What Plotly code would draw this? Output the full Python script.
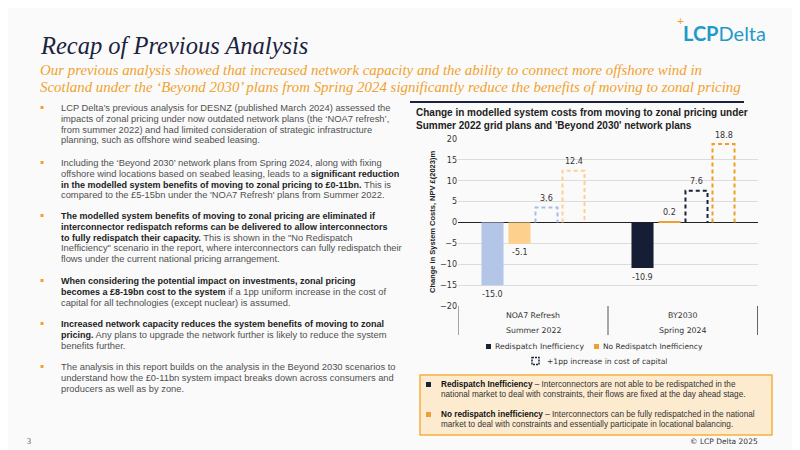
import plotly.graph_objects as go

# chart data
categories = ["NOA7 Refresh", "BY2030"]
periods = ["Summer 2022", "Spring 2024"]
redispatch = [-15.0, -10.9]
no_redispatch = [-5.1, 0.2]
redispatch_coc = [3.6, 7.6]
no_redispatch_coc = [12.4, 18.8]

col_redispatch = ["#b4c6e7", "#161e36"]
col_no_redispatch = ["#fdd08e", "#f0a030"]

# page geometry (pixels in the 800x450 window) -> paper coords
# the page body has an 8px margin, so the figure is 792x442
PAGE_W, PAGE_H, OFF = 800, 450, 8
L, R, T, B = 458, 758, 139, 306


def px(x, y):
    return (x - L) / (R - L), (B - y) / (B - T)


fig = go.Figure()

bar_w = 0.147
offsets = [-0.27, -0.09, 0.09, 0.27]
xs = list(range(len(categories)))

# solid bars
fig.add_trace(go.Bar(x=[i + offsets[0] for i in xs], y=redispatch, width=bar_w,
                     marker=dict(color=col_redispatch, line=dict(width=0))))
fig.add_trace(go.Bar(x=[i + offsets[1] for i in xs], y=no_redispatch, width=bar_w,
                     marker=dict(color=col_no_redispatch, line=dict(width=0))))

# dashed bars (+1pp cost of capital)
for vals, off, cols in [(redispatch_coc, offsets[2], ["#a9bde3", "#1a2238"]),
                        (no_redispatch_coc, offsets[3], ["#fcd290", "#f29f21"])]:
    for i, v in enumerate(vals):
        x0, x1 = i + off - bar_w / 2, i + off + bar_w / 2
        fig.add_trace(go.Scatter(x=[x0, x0, x1, x1], y=[0, v, v, 0], mode="lines",
                                 line=dict(color=cols[i], width=2, dash="4px,3px"),
                                 hoverinfo="skip"))

ann = []
shapes = []

# data labels
for vals, off in [(redispatch, offsets[0]), (no_redispatch, offsets[1]),
                  (redispatch_coc, offsets[2]), (no_redispatch_coc, offsets[3])]:
    for i, v in enumerate(vals):
        ann.append(dict(x=i + off, y=v, xref="x", yref="y", text=f"{v:.1f}", showarrow=False,
                        xanchor="center", yanchor="middle", yshift=9 if v >= 0 else -9,
                        font=dict(family="DejaVu Sans", size=8, color="#333333")))


def text(x, y, s, size=9, color="#555555", family="Liberation Sans", anchor="left", **kw):
    ax, ay = px(x, y)
    ann.append(dict(x=ax, y=ay, xref="paper", yref="paper", text=s, showarrow=False,
                    xanchor=anchor, yanchor="middle",
                    font=dict(family=family, size=size, color=color), **kw))


def rect(x0, y0, x1, y1, **kw):
    a0, b0 = px(x0, y0)
    a1, b1 = px(x1, y1)
    shapes.append(dict(type="rect", xref="paper", yref="paper", x0=a0, y0=b0, x1=a1, y1=b1, **kw))


# slide header
text(38, 45, "<i>Recap of Previous Analysis</i>", size=24.5, color="#1c2340",
     family="Liberation Serif")
text(38, 70, "<i>Our previous analysis showed that increased network capacity and the ability to connect more offshore wind in</i>",
     size=14.9, color="#f0a22e", family="Liberation Serif")
text(38, 87, "<i>Scotland under the ‘Beyond 2030’ plans from Spring 2024 significantly reduce the benefits of moving to zonal pricing</i>",
     size=14.9, color="#f0a22e", family="Liberation Serif")

# logo
text(724, 33, "<b>LCP</b>Delta", size=20, color="#1f9ac9", family="Lato", anchor="center")
text(680, 20, "+", size=12, color="#f0a22e", family="Lato", anchor="center")

# bullets
bold = "<b style='color:#222;font-size:9px'>{}</b>"
bullets = [
    (108, ["LCP Delta’s previous analysis for DESNZ (published March 2024) assessed the",
           "impacts of zonal pricing under now outdated network plans (the ‘NOA7 refresh’,",
           "from summer 2022) and had limited consideration of strategic infrastructure",
           "planning, such as offshore wind seabed leasing."]),
    (163, ["Including the ‘Beyond 2030’ network plans from Spring 2024, along with fixing",
           "offshore wind locations based on seabed leasing, leads to a " + bold.format("significant reduction"),
           bold.format("in the modelled system benefits of moving to zonal pricing to £0-11bn.") + " This is",
           "compared to the £5-15bn under the 'NOA7 Refresh' plans from Summer 2022."]),
    (216, [bold.format("The modelled system benefits of moving to zonal pricing are eliminated if"),
           bold.format("interconnector redispatch reforms can be delivered to allow interconnectors"),
           bold.format("to fully redispatch their capacity.") + " This is shown in the \"No Redispatch",
           "Inefficiency\" scenario in the report, where interconnectors can fully redispatch their",
           "flows under the current national pricing arrangement."]),
    (281, [bold.format("When considering the potential impact on investments, zonal pricing"),
           bold.format("becomes a £8-19bn cost to the system") + " if a 1pp uniform increase in the cost of",
           "capital for all technologies (except nuclear) is assumed."]),
    (324, [bold.format("Increased network capacity reduces the system benefits of moving to zonal"),
           bold.format("pricing.") + " Any plans to upgrade the network further is likely to reduce the system",
           "benefits further."]),
    (367, ["The analysis in this report builds on the analysis in the Beyond 2030 scenarios to",
           "understand how the £0-11bn system impact breaks down across consumers and",
           "producers as well as by zone."]),
]
for y0, lines in bullets:
    rect(40.5, y0 - 2, 43.5, y0 + 1, fillcolor="#f0a22e", line=dict(width=0))
    for k, ln in enumerate(lines):
        text(59, y0 + k * 10.8, ln, size=9.35, color="#505050")

# chart title + rule
shapes.append(dict(type="line", xref="paper", yref="paper",
                   x0=px(410, 0)[0], x1=px(744, 0)[0], y0=px(0, 102)[1], y1=px(0, 102)[1],
                   line=dict(color="#1c2340", width=2)))
text(414, 112, "<b>Change in modelled system costs from moving to zonal pricing under</b>",
     size=10, color="#222222")
text(414, 125, "<b>Summer 2022 grid plans and 'Beyond 2030' network plans</b>",
     size=10, color="#222222")

# y title
text(432, 222, "<b>Change in System Costs, NPV £(2023)m</b>", size=7.5, color="#222222",
     anchor="center", textangle=-90)

# category axis dividers and labels
for xd, c in [(-0.5, "#8a8a8a"), (0.5, "#8a8a8a"), (1.5, "#333333")]:
    shapes.append(dict(type="line", xref="x", yref="paper", x0=xd, x1=xd,
                       y0=0, y1=px(0, 335)[1], line=dict(color=c, width=1.5)))
for i, (cat, per) in enumerate(zip(categories, periods)):
    for yy, s in [(315, cat), (330, per)]:
        ann.append(dict(x=i, y=px(0, yy)[1], xref="x", yref="paper", text=s, showarrow=False,
                        xanchor="center", yanchor="middle",
                        font=dict(family="DejaVu Sans", size=7.8, color="#333333")))

# legend
rect(486, 344, 491, 349, fillcolor="#1a2238", line=dict(width=0))
text(493, 346, "Redispatch Inefficiency", size=7.7, color="#333333", family="DejaVu Sans")
rect(594, 344, 599, 349, fillcolor="#f0a030", line=dict(width=0))
text(601, 346, "No Redispatch Inefficiency", size=7.5, color="#333333", family="DejaVu Sans")
rect(532, 357.5, 539, 364.5, fillcolor="rgba(0,0,0,0)", line=dict(color="#1a2238", width=1.5, dash="2px,1px"))
text(545, 361, "+1pp increase in cost of capital", size=7.6, color="#333333", family="DejaVu Sans")

# definition box
rect(420, 375, 772, 435, fillcolor="#fdebd0", line=dict(color="#f5b041", width=1.5))
rect(426, 382, 431, 387, fillcolor="#1a2238", line=dict(width=0))
text(439, 384, "<b style='color:#111'>Redispatch Inefficiency</b> – Interconnectors are not able to be redispatched in the",
     size=8.2, color="#333333")
text(439, 394, "national market to deal with constraints, their flows are fixed at the day ahead stage.",
     size=8.2, color="#333333")
rect(426, 412, 431, 417, fillcolor="#f0a030", line=dict(width=0))
text(439, 414, "<b style='color:#111'>No redispatch inefficiency</b> – Interconnectors can be fully redispatched in the national",
     size=8.2, color="#333333")
text(439, 424, "market to deal with constraints and essentially participate in locational balancing.",
     size=8.2, color="#333333")

# footer
text(760, 441, "© LCP Delta 2025", size=7.5, color="#333333", family="DejaVu Sans", anchor="right")
text(25, 441, "3", size=8, color="#555555", family="Liberation Serif")

fig.update_layout(
    width=PAGE_W - OFF, height=PAGE_H - OFF,
    margin=dict(l=L - OFF, r=PAGE_W - R, t=T - OFF, b=PAGE_H - B),
    paper_bgcolor="#fafafa", plot_bgcolor="#fafafa",
    showlegend=False, barmode="overlay",
    annotations=ann, shapes=shapes,
    xaxis=dict(range=[-0.5, 1.5], showticklabels=False, showgrid=False, zeroline=False,
               showline=False, fixedrange=True),
    yaxis=dict(range=[-20, 20], dtick=5, showgrid=True, gridcolor="#dcdcdc", gridwidth=1,
               zeroline=True, zerolinecolor="#222222", zerolinewidth=1,
               tickfont=dict(family="DejaVu Sans", size=8, color="#333333"),
               ticks="", showline=False),
)

fig.write_html("out.html")
